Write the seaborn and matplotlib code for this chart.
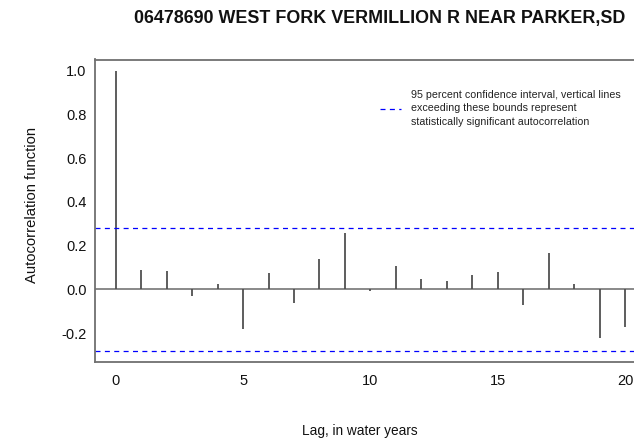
import numpy as np
import pandas as pd
import matplotlib
matplotlib.use("Agg")
import matplotlib.pyplot as plt
import seaborn as sns

# ---- data ----
title = "06478690 WEST FORK VERMILLION R NEAR PARKER,SD"
lags = list(range(0, 21))
acf = [1.0, 0.090, 0.082, -0.032, 0.026, -0.180, 0.075, -0.061, 0.140, 0.258,
       -0.008, 0.105, 0.049, 0.037, 0.067, 0.081, -0.073, 0.165, 0.024, -0.221, -0.172]
ci_bound = 0.28
x_ticks = [0, 5, 10, 15, 20]
y_ticks = [-0.2, 0.0, 0.2, 0.4, 0.6, 0.8, 1.0]
legend_text = ("95 percent confidence interval, vertical lines\n"
               "exceeding these bounds represent\n"
               "statistically significant autocorrelation")
x_label = "Lag, in water years"
y_label = "Autocorrelation function"

df = pd.DataFrame({"lag": lags, "acf": acf})

sns.set_theme(style="white")
plt.rcParams['font.family'] = ['Liberation Sans', 'DejaVu Sans']

fig = plt.figure(figsize=(6.34, 4.41), dpi=100)
W, H = 634, 441
left, right, top, bottom = 95, 640, 59.5, 361.7
aw, ah = right - left, bottom - top
ax = fig.add_axes([left / W, (H - bottom) / H, aw / W, ah / H])

def ax_x(px):
    return (px - left) / aw

def ax_y(py):
    return (bottom - py) / ah

stem_color = "#505050"
ax.vlines(df["lag"], 0, df["acf"], color=stem_color, linewidth=1.3)
ax.axhline(0, color="#808080", linewidth=1.3, zorder=1)
ax.axhline(ci_bound, color="#0000FF", linewidth=0.9, linestyle=(0, (4, 3.5)),
           label=legend_text)
ax.axhline(-ci_bound, color="#0000FF", linewidth=0.9, linestyle=(0, (4, 3.5)))

ax.set_xlim(-0.81, 20.58)
ax.set_ylim(-0.331, 1.051)
ax.set_xticks(x_ticks)
ax.set_yticks(y_ticks)
ax.set_xticklabels([str(t) for t in x_ticks], fontsize=10.5, color="#111111")
ax.set_yticklabels([f"{t:.1f}" for t in y_ticks], fontsize=10.5, color="#111111")
ax.tick_params(direction="in", length=5, width=1, color="#707070", pad=9)
ax.tick_params(axis="y", pad=6)

for s in ax.spines.values():
    s.set_color("#707070")
    s.set_linewidth(1.3)

ax.set_xlabel(x_label, fontsize=9.8, color="#111111", va="center", ha="center")
ax.xaxis.set_label_coords(ax_x(360), ax_y(431))
ax.set_ylabel(y_label, fontsize=10.6, color="#111111", va="center", ha="center")
ax.yaxis.set_label_coords(ax_x(32), ax_y(205))

fig.text(380 / W, 1 - 18 / H, title, fontsize=12.9, fontweight="bold",
         ha="center", va="center", color="#111111")

leg = ax.legend(loc="center left", bbox_to_anchor=(ax_x(380), ax_y(108.3)),
                frameon=False, fontsize=7.65, handlelength=1.95, handletextpad=0.94,
                borderaxespad=0, borderpad=0)
for t in leg.get_texts():
    t.set_linespacing(1.45)
    t.set_color("#222222")

fig.savefig("out.png", dpi=100)
